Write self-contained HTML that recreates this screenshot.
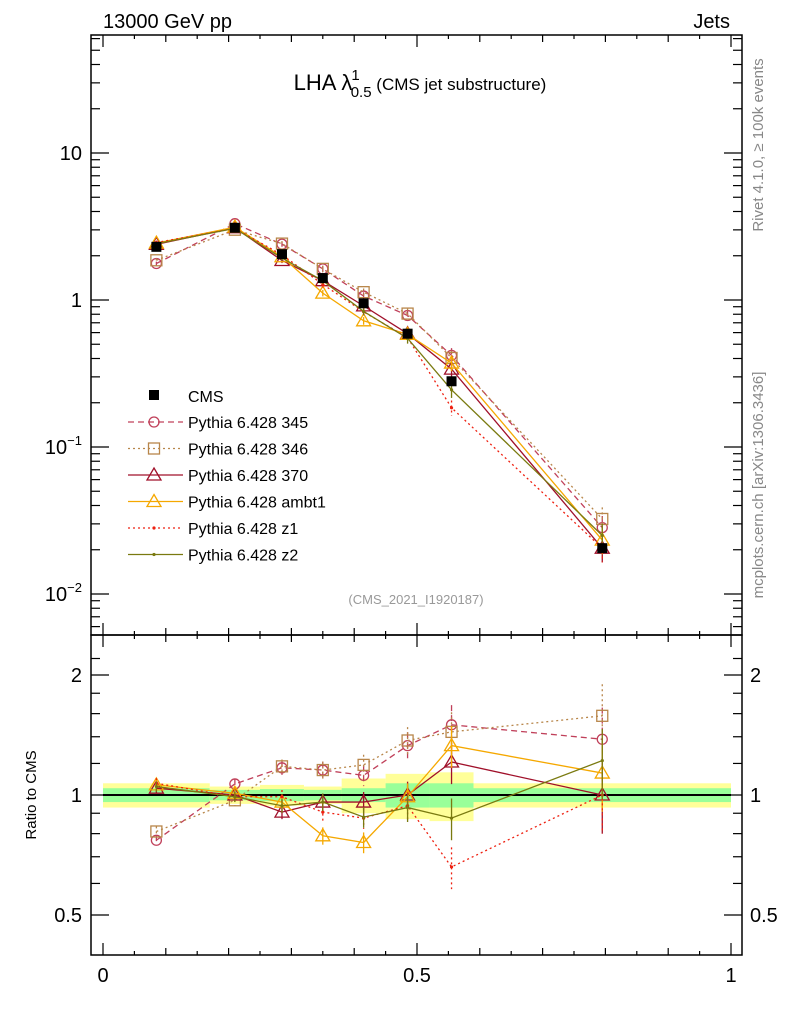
<!DOCTYPE html>
<html><head><meta charset="utf-8"><style>
body{margin:0;background:#fff;font-family:"Liberation Sans",sans-serif}
svg text{font-family:"Liberation Sans",sans-serif}
</style></head><body>
<svg id="plot" width="786" height="1024" xmlns="http://www.w3.org/2000/svg">
<text x="103" y="28" font-size="20">13000 GeV pp</text>
<text x="730" y="28" font-size="20" text-anchor="end">Jets</text>
<text x="420" y="90" font-size="22" text-anchor="middle">LHA λ<tspan font-size="15" dy="-10" dx="-1">1</tspan><tspan font-size="15" dy="17" dx="-9">0.5</tspan><tspan dy="-7" font-size="17"> (CMS jet substructure)</tspan></text>
<text x="416" y="604" font-size="13" fill="#999" text-anchor="middle">(CMS_2021_I1920187)</text>
<text transform="translate(763,145) rotate(-90)" font-size="15" fill="#888" text-anchor="middle">Rivet 4.1.0, ≥ 100k events</text>
<text transform="translate(763,485) rotate(-90)" font-size="15" fill="#888" text-anchor="middle">mcplots.cern.ch [arXiv:1306.3436]</text>
<text transform="translate(36,795) rotate(-90)" font-size="15" text-anchor="middle">Ratio to CMS</text>
<g id="g"></g>
</svg>
<script>
const edges=[0,0.17,0.25,0.32,0.38,0.45,0.52,0.59,1.0];
const centers=[0.085,0.21,0.285,0.35,0.415,0.485,0.555,0.795];
const cmsVals=[2.3,3.1,2.05,1.41,0.95,0.59,0.28,0.0205];
const statBand=[0.04,0.03,0.035,0.03,0.04,0.07,0.07,0.04];
const totBand=[0.07,0.05,0.06,0.05,0.1,0.13,0.14,0.07];
const r345=[0.77,1.066,1.17,1.155,1.12,1.33,1.5,1.38];
const r346=[0.81,0.97,1.18,1.155,1.19,1.37,1.44,1.58];
const r370=[1.04,1.0,0.906,0.96,0.96,1.0,1.21,1.0];
const rambt1=[1.06,1.01,0.96,0.79,0.76,0.99,1.33,1.135];
const rz1=[1.07,0.99,0.99,0.906,0.875,0.94,0.66,1.0];
const rz2=[1.05,0.99,0.94,0.96,0.88,0.93,0.875,1.22];
const simErr=[0.03,0.03,0.04,0.05,0.06,0.08,0.12,0.2];
const series=[
 {n:'Pythia 6.428 345',r:r345,c:'#c0405a',d:'6,4',m:'circle',k:'345'},
 {n:'Pythia 6.428 346',r:r346,c:'#b8864a',d:'2,3',m:'square',k:'346'},
 {n:'Pythia 6.428 370',r:r370,c:'#a0102a',d:'',m:'tri',k:'370'},
 {n:'Pythia 6.428 ambt1',r:rambt1,c:'#f5a800',d:'',m:'tri',k:'ambt1'},
 {n:'Pythia 6.428 z1',r:rz1,c:'#ee2010',d:'2,3',m:'dot',k:'z1'},
 {n:'Pythia 6.428 z2',r:rz2,c:'#7a7a10',d:'',m:'dot',k:'z2'}];
const L=91,R=742,T=35,MB=635,B=955;
const X=v=>103+v*628;
const Y=v=>300-147*Math.log10(v);
const YR=v=>795-120*Math.log2(v);
const g=document.getElementById('g');
const NS='http://www.w3.org/2000/svg';
function el(t,a,p){const e=document.createElementNS(NS,t);for(const k in a)e.setAttribute(k,a[k]);(p||g).appendChild(e);return e;}
edges.slice(0,-1).forEach((e,i)=>{
 let r=el('rect',{x:X(e),y:YR(1+totBand[i]),width:X(edges[i+1])-X(e),height:YR(1-totBand[i])-YR(1+totBand[i]),fill:'#ffff99'});
 
 let s=el('rect',{x:X(e),y:YR(1+statBand[i]),width:X(edges[i+1])-X(e),height:YR(1-statBand[i])-YR(1+statBand[i]),fill:'#99ff99'});
 
});
el('line',{x1:X(0),x2:X(1),y1:YR(1),y2:YR(1),stroke:'#000','stroke-width':2});
function marker(m,x,y,c,p){
 if(m=='circle')return el('circle',{cx:x,cy:y,r:5,fill:'none',stroke:c,'stroke-width':1.3},p);
 if(m=='square')return el('rect',{x:x-5.5,y:y-5.5,width:11,height:11,fill:'none',stroke:c,'stroke-width':1.3},p);
 if(m=='tri')return el('path',{d:`M${x},${y-7}L${x+7},${y+5}L${x-7},${y+5}Z`,fill:'none',stroke:c,'stroke-width':1.3},p);
 return el('circle',{cx:x,cy:y,r:1.6,fill:c},p);
}
function drawSeries(s,fy,vals){
 const grp=el('g',{});
 
 
 const pts=centers.map((c,i)=>[X(c),fy(vals[i])]);
 el('polyline',{points:pts.map(p=>p.join(',')).join(' '),fill:'none',stroke:s.c,'stroke-width':1.3,'stroke-dasharray':s.d},grp);
 centers.forEach((c,i)=>{
  const e=simErr[i];
  el('line',{x1:X(c),x2:X(c),y1:fy(vals[i]*(1+e)),y2:fy(vals[i]*(1-e)),stroke:s.c,'stroke-width':1.3,'stroke-dasharray':s.d},grp);
  marker(s.m,X(c),fy(vals[i]),s.c,grp);
 });
}
series.forEach(s=>{drawSeries(s,Y,s.r.map((r,i)=>r*cmsVals[i]));drawSeries(s,YR,s.r);});
const cg=el('g',{});
centers.forEach((c,i)=>{el('rect',{x:X(c)-5,y:Y(cmsVals[i])-5,width:10,height:10,fill:'#000'},cg);
 el('line',{x1:X(c),x2:X(c),y1:Y(cmsVals[i]*(1+statBand[i])),y2:Y(cmsVals[i]*(1-statBand[i])),stroke:'#000','stroke-width':1.3},cg);});
el('rect',{x:L,y:T,width:R-L,height:MB-T,fill:'none',stroke:'#000','stroke-width':1.5});
el('rect',{x:L,y:MB,width:R-L,height:B-MB,fill:'none',stroke:'#000','stroke-width':1.5});
for(let k=0;k<=20;k++){const v=k*0.05,x=X(v),len=k%10==0?12:(k%2==0?7:4);
 [[T,1],[MB,-1],[MB,1],[B,-1]].forEach(([y,d])=>el('line',{x1:x,x2:x,y1:y,y2:y+d*len,stroke:'#000','stroke-width':1.2}));}
[['0',0],['0.5',0.5],['1',1]].forEach(([t,v])=>{const tx=el('text',{x:X(v),y:982,'font-size':20,'text-anchor':'middle'});tx.textContent=t;
 });
for(let e=-3;e<=1;e++)for(let m=1;m<10;m++){const v=m*Math.pow(10,e),y=Y(v);if(y<T||y>MB)continue;const len=m==1?18:9;
 el('line',{x1:L,x2:L+len,y1:y,y2:y,stroke:'#000','stroke-width':1.2});el('line',{x1:R,x2:R-len,y1:y,y2:y,stroke:'#000','stroke-width':1.2});}
const yLab=[['10',10],['1',1]];
yLab.forEach(([t,v])=>{const tx=el('text',{x:82,y:Y(v)+7,'font-size':20,'text-anchor':'end'});tx.textContent=t;});
[[-1,0.1],[-2,0.01]].forEach(([p,v])=>{const tx=el('text',{x:82,y:Y(v)+7,'font-size':20,'text-anchor':'end'});tx.innerHTML='10<tspan font-size="13" dy="-9">−'+(-p)+'</tspan>';});
[0.5,0.6,0.7,0.8,0.9,1,1.2,1.4,1.6,1.8,2,2.2].forEach(v=>{const y=YR(v);if(y<MB||y>B)return;const len=(v==0.5||v==1||v==2)?18:9;
 el('line',{x1:L,x2:L+len,y1:y,y2:y,stroke:'#000','stroke-width':1.2});el('line',{x1:R,x2:R-len,y1:y,y2:y,stroke:'#000','stroke-width':1.2});});
[['2',2],['1',1],['0.5',0.5]].forEach(([t,v])=>{[[82,'end'],[750,'start']].forEach(([x,a])=>{const tx=el('text',{x:x,y:YR(v)+7,'font-size':20,'text-anchor':a});tx.textContent=t;});});
const lg=el('g',{});
el('rect',{x:149,y:390,width:10,height:10,fill:'#000'},lg);
let t0=el('text',{x:188,y:402,'font-size':16},lg);t0.textContent='CMS';
series.forEach((s,i)=>{const y=422+i*26.5;
 el('line',{x1:128,x2:183,y1:y,y2:y,stroke:s.c,'stroke-width':1.3,'stroke-dasharray':s.d},lg);
 marker(s.m,154,y,s.c,lg);
 const tx=el('text',{x:188,y:y+6,'font-size':16},lg);tx.textContent=s.n;
 });
</script>
</body></html>
